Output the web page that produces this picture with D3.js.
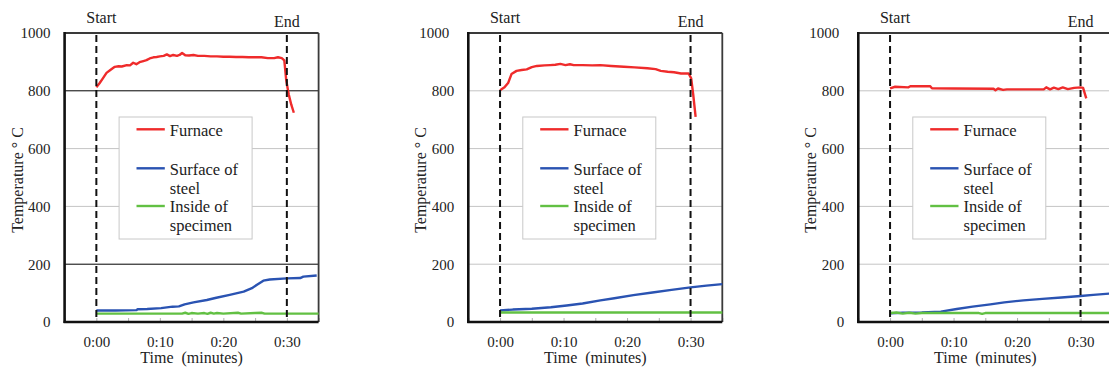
<!DOCTYPE html>
<html><head><meta charset="utf-8">
<script src="https://cdn.jsdelivr.net/npm/d3@7"></script>
<style>
body{margin:0;background:#fff}
svg{display:block}
</style>
</head><body>
<svg id="chart" width="1109" height="372"></svg>
<script>
// ---------- data ----------
const yTicks = [0, 200, 400, 600, 800, 1000];
const xMinorTicks = [-5, 0, 5, 10, 15, 20, 25, 30, 35];
const xLabelTicks = [0, 10, 20, 30];
const xTickLabels = ["0:00", "0:10", "0:20", "0:30"];
const seriesNames = ["Furnace", "Surface of steel", "Inside of specimen"];
const legendLabels = [["Furnace"], ["Surface of", "steel"], ["Inside of", "specimen"]];
const seriesColors = ["#ef2b2b", "#2a53b2", "#62c043"];
const markerLabels = ["Start", "End"];
const markerTimes = [0, 30];
const yTitle = "Temperature ° C";
const xTitle = "Time  (minutes)";

// panel 1
const p1Furnace = [[0,812],[0.5,826],[1,842],[1.6,862],[2.2,872],[2.9,883],[3.5,885],[4,884],[4.8,889],[5.3,888],[5.8,897],[6.3,892],[6.8,899],[7.4,903],[7.9,906],[8.4,912],[9,916],[9.5,917],[10,919],[10.6,921],[11.1,926],[11.6,920],[12.1,924],[12.7,921],[13.1,924],[13.5,931],[14,923],[14.6,922],[15.3,924],[16,921],[17,921],[18,919],[19,919],[20,918],[21,918],[22,917],[23,917],[24,916],[25,916],[26,916],[27,913],[28,913],[28.6,916],[29.2,913],[29.6,905],[29.9,837],[30.3,787],[30.7,752],[31.1,724]];
const p1Surface = [[0,40],[3,40],[6.3,41],[6.5,44],[8,45],[10.2,48],[12,53],[13,54],[13.9,61],[15.3,68],[17.4,76],[18.9,84],[21,94],[23.2,105],[24.5,117],[25.3,129],[26.3,143],[27.3,147],[30,151],[32.1,152],[32.6,157],[34.7,161]];
const p1Inside = [[0,29],[13.5,29],[14,32],[14.5,28],[15,31],[16,29],[17,31],[17.5,28],[18,32],[18.5,29],[19,31],[20,29],[22.3,32],[22.8,29],[25,31],[26,32],[26.5,29],[30,29],[35,29]];
// panel 2
const p2Furnace = [[0,802],[0.7,812],[1.3,828],[1.8,858],[2.6,869],[3.4,872],[4.2,874],[5,882],[5.8,886],[7,888],[7.9,889],[8.7,890],[9.5,893],[10.3,889],[11,892],[11.6,889],[13,889],[14.5,888],[15.8,889],[17.5,886],[19.5,883],[21.2,881],[23.2,878],[24.5,875],[25.3,869],[26.4,866],[27.4,864],[28.5,860],[29.7,860],[30.1,843],[30.4,791],[30.8,710]];
const p2Surface = [[0,40],[2,43],[5,46],[8,51],[10.5,57],[13,64],[15.8,75],[18,82],[21,93],[24,102],[27,111],[30,120],[32.5,126],[35,131]];
const p2Inside = [[0,33],[35,33]];
// panel 3
const p3Furnace = [[0,808],[0.8,814],[2.9,812],[3.2,816],[6.3,816],[6.6,809],[10,808],[16.3,807],[16.6,802],[17,808],[17.8,803],[18.4,805],[24.2,805],[24.6,812],[25.2,805],[25.8,811],[26.5,806],[27.2,812],[28,806],[29,810],[30,812],[30.4,810],[30.9,774]];
const p3Surface = [[0,30],[2,32],[5,33],[8,36],[10.5,45],[13,53],[15.8,61],[18,68],[21,75],[24,80],[27,85],[30,90],[32,94],[35,99]];
const p3Inside = [[0,31],[1,33],[2,29],[3,32],[4,29],[5,31],[14,31],[14.5,28],[15,31],[35,31]];

const panelSeries = [
  [p1Furnace, p1Surface, p1Inside],
  [p2Furnace, p2Surface, p2Inside],
  [p3Furnace, p3Surface, p3Inside]
];

// ---------- layout ----------
const FONT = "Liberation Serif, DejaVu Serif";
const panelLeft = [64.6, 468.3, 858.3];
const topLabelShift = [0, -5, -5];
const plotW = 254, plotTop = 33, plotBottom = 322;
const darkGrid = [[800, 200], [], []];

const svg = d3.select("#chart");
const y = d3.scaleLinear().domain([0, 1000]).range([plotBottom, plotTop]);

function txt(sel, size) {
  return sel.attr("font-family", FONT).attr("font-size", size).attr("fill", "#222");
}

panelSeries.forEach((series, pi) => {
  const L = panelLeft[pi];
  const x = d3.scaleLinear().domain([-5, 35]).range([L, L + plotW]);
  const g = svg.append("g");

  // gridlines
  g.append("g").selectAll("line").data(yTicks.filter(v => v > 0 && v < 1000)).join("line")
    .attr("x1", L).attr("x2", L + plotW)
    .attr("y1", d => y(d)).attr("y2", d => y(d))
    .attr("stroke", d => darkGrid[pi].includes(d) ? "#000" : "#c4c4c4")
    .attr("stroke-width", 1);

  // minor ticks (inside, bottom)
  const minor = d3.axisBottom(x).tickValues(xMinorTicks).tickSize(-4).tickFormat("");
  const mg = g.append("g").attr("transform", `translate(0,${plotBottom})`).call(minor);
  mg.select(".domain").remove();
  mg.selectAll("line").attr("stroke", "#b0b0b0");

  // x labels
  const xa = d3.axisBottom(x).tickValues(xLabelTicks).tickSize(0).tickPadding(14)
    .tickFormat((d, i) => xTickLabels[i]);
  const xg = g.append("g").attr("transform", `translate(0,${plotBottom})`).call(xa);
  xg.select(".domain").remove();
  txt(xg, 15);
  txt(xg.selectAll("text"), 15);

  // y labels
  const ya = d3.axisLeft(y).tickValues(yTicks).tickSize(0).tickPadding(14).tickFormat(d3.format("d"));
  const yg = g.append("g").attr("transform", `translate(${L},0)`).call(ya);
  yg.select(".domain").remove();
  txt(yg, 15);
  txt(yg.selectAll("text"), 15);
  yg.selectAll(".tick").filter(d => d === 1000).select("text")
    .attr("dx", topLabelShift[pi]);

  // frame: top and right
  g.append("line").attr("x1", L).attr("x2", L + plotW).attr("y1", plotTop).attr("y2", plotTop)
    .attr("stroke", "#3a3a3a").attr("stroke-width", 1.8);
  g.append("line").attr("x1", L + plotW).attr("x2", L + plotW).attr("y1", plotTop).attr("y2", plotBottom)
    .attr("stroke", "#3a3a3a").attr("stroke-width", 1.8);

  // data lines
  const line = d3.line().x(d => x(d[0])).y(d => y(d[1]));
  series.forEach((s, si) => {
    g.append("path").datum(s).attr("d", line).attr("fill", "none")
      .attr("stroke", seriesColors[si]).attr("stroke-width", 2.4)
      .attr("stroke-linejoin", "round");
  });

  // left and bottom axis lines
  g.append("line").attr("x1", L).attr("x2", L).attr("y1", plotTop - 1).attr("y2", plotBottom + 1)
    .attr("stroke", "#111").attr("stroke-width", 2.6);
  g.append("line").attr("x1", L - 1).attr("x2", L + plotW).attr("y1", plotBottom).attr("y2", plotBottom)
    .attr("stroke", "#111").attr("stroke-width", 2.6);

  // start/end dashed markers
  markerTimes.forEach((t, mi) => {
    g.append("line").attr("x1", x(t)).attr("x2", x(t)).attr("y1", plotTop + 2).attr("y2", plotBottom)
      .attr("stroke", "#111").attr("stroke-width", 2).attr("stroke-dasharray", "7,4");
    txt(g.append("text"), 16).attr("x", x(t) + (mi === 0 ? 5 : 0)).attr("y", mi === 0 ? 23 : 27)
      .attr("text-anchor", "middle").text(markerLabels[mi]);
  });

  // legend
  const lx = L + 54.5, ly = 117;
  const lg = g.append("g");
  lg.append("rect").attr("x", lx).attr("y", ly).attr("width", 133).attr("height", 122)
    .attr("fill", "#fff").attr("stroke", "#c8c8c8").attr("stroke-width", 1);
  const lineY = [129.3, 168.3, 206];
  const textY = [[136], [175, 194], [211.7, 230.7]];
  seriesNames.forEach((n, si) => {
    lg.append("line").attr("x1", lx + 17.4).attr("x2", lx + 45.7)
      .attr("y1", lineY[si]).attr("y2", lineY[si])
      .attr("stroke", seriesColors[si]).attr("stroke-width", 2.4);
    legendLabels[si].forEach((t, k) => {
      txt(lg.append("text"), 16.5).attr("x", lx + 50.7).attr("y", textY[si][k]).text(t);
    });
  });

  // axis titles
  txt(g.append("text"), 16).attr("transform", `translate(${L - 42},180) rotate(-90)`)
    .attr("text-anchor", "middle").attr("xml:space", "preserve").style("white-space", "pre").text(yTitle);
  txt(g.append("text"), 16).attr("x", L + plotW / 2).attr("y", 363)
    .attr("text-anchor", "middle").attr("xml:space", "preserve").style("white-space", "pre").text(xTitle);
});
</script>
</body></html>
